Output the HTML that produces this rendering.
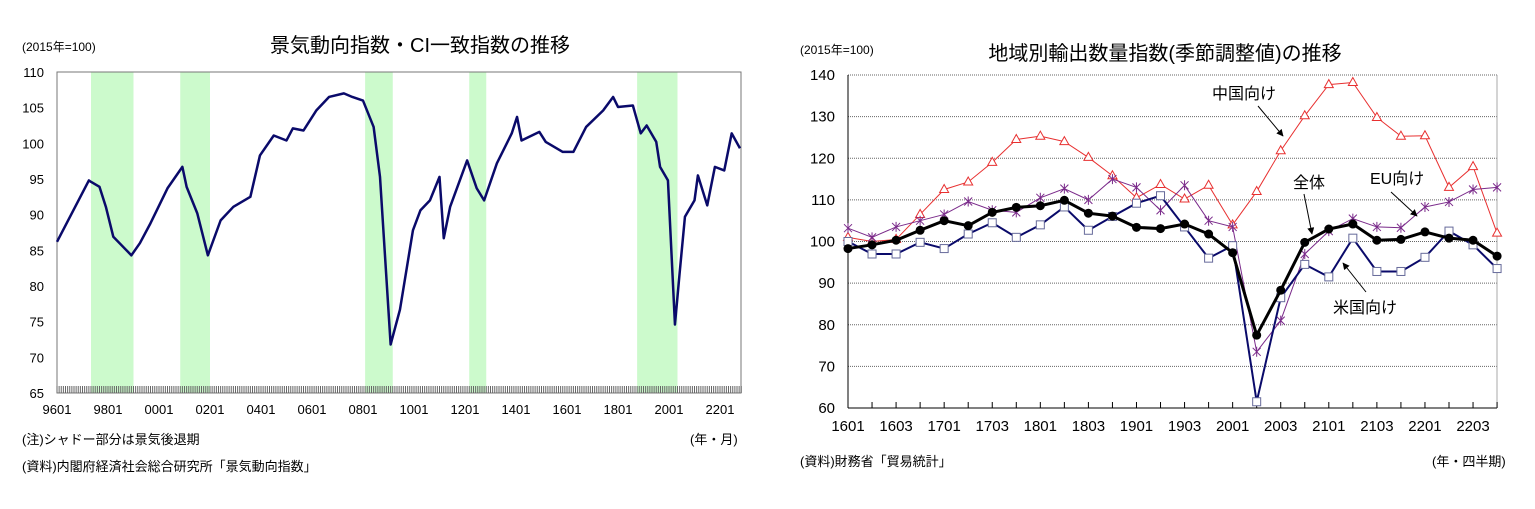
<!DOCTYPE html>
<html><head><meta charset="utf-8"><style>
body{margin:0;background:#fff;font-family:"Liberation Sans","Noto Sans CJK JP",sans-serif;}
svg text{font-family:"Liberation Sans","Noto Sans CJK JP",sans-serif;}
</style></head><body>
<svg id="s" width="1535" height="504" xmlns="http://www.w3.org/2000/svg">
<defs><marker id="ar" viewBox="0 0 10 10" refX="9" refY="5" markerWidth="7" markerHeight="7" orient="auto"><path d="M0,0L10,5L0,10z" fill="#000"/></marker></defs>
<text x="22" y="51" font-size="12">(2015年=100)</text>
<text x="420" y="52" font-size="20" text-anchor="middle">景気動向指数・CI一致指数の推移</text>
<text x="22" y="444" font-size="13">(注)シャドー部分は景気後退期</text>
<text x="690" y="444" font-size="13">(年・月)</text>
<text x="22" y="471" font-size="13">(資料)内閣府経済社会総合研究所「景気動向指数」</text>
<g id="L"></g>
<text x="800" y="54" font-size="12">(2015年=100)</text>
<text x="1165" y="60" font-size="20" text-anchor="middle">地域別輸出数量指数(季節調整値)の推移</text>
<text x="800" y="466" font-size="13">(資料)財務省「貿易統計」</text>
<text x="1432" y="466" font-size="13">(年・四半期)</text>
<g id="R"></g>
<text x="1212" y="99" font-size="16">中国向け</text>
<line x1="1258" y1="106" x2="1283" y2="136" stroke="#000" marker-end="url(#ar)"/>
<text x="1293" y="188" font-size="16">全体</text>
<line x1="1304" y1="194" x2="1312" y2="234" stroke="#000" marker-end="url(#ar)"/>
<text x="1370" y="184" font-size="16">EU向け</text>
<line x1="1391" y1="192" x2="1417" y2="216" stroke="#000" marker-end="url(#ar)"/>
<text x="1333" y="313" font-size="16">米国向け</text>
<line x1="1366" y1="292" x2="1343" y2="263" stroke="#000" marker-end="url(#ar)"/>
</svg>
<script>
// Left chart data
const ciMonths=[0,15,16,20,23,26.5,35,39,44,52,59,61,66,71,77,83,91,95.5,102,108,111,116,122,128,135,139,144,149,152,157,161.4,167.5,171,175.5,180,182,185,193,197.5,201,207,214,216.5,218.6,227,230,238,243,249,257,261.7,264,271,274.7,277.5,282,283.8,287.5,290.8,293,295.5,300,301.6,306,309.6,314,317.5,321.4];
const ciValues=[86.2,94.8,94.6,93.9,91.1,86.9,84.3,86,88.8,93.7,96.7,93.9,90.2,84.3,89.2,91.1,92.5,98.3,101.1,100.4,102.1,101.8,104.6,106.5,107,106.5,106,102.3,95.3,71.8,76.7,87.8,90.6,92,95.3,86.7,91.1,97.6,93.7,92,97.2,101.4,103.7,100.4,101.6,100.2,98.8,98.8,102.3,104.6,106.5,105.1,105.3,101.4,102.5,100.2,96.7,94.8,74.6,81.8,89.7,92,95.5,91.3,96.7,96.2,101.4,99.3];
const recessionStart=[16,58,145,194,273];
const recessionEnd=[36,72,158,202,292];
const leftTicks=[65,70,75,80,85,90,95,100,105,110];
const leftXLabels=['9601','9801','0001','0201','0401','0601','0801','1001','1201','1401','1601','1801','2001','2201'];
// Right chart data
const quarters=['1601','1602','1603','1604','1701','1702','1703','1704','1801','1802','1803','1804','1901','1902','1903','1904','2001','2002','2003','2004','2101','2102','2103','2104','2201','2202','2203','2204'];
const china=[101,100,100.5,106.5,112.5,114.3,119,124.5,125.3,124,120.2,115.8,110.5,113.7,110.2,113.5,104,112,121.8,130.2,137.7,138.2,129.8,125.3,125.4,113,118,102];
const eu=[103.2,101,103.5,105,106.5,109.6,107.5,107,110.5,112.7,110,115,113,107.5,113.5,105,103.5,73.5,81,97,102.5,105.5,103.5,103.3,108.3,109.5,112.5,113];
const us=[100,97,97,99.8,98.3,101.8,104.5,101,104,108.3,102.7,106,109.2,111,103.5,96,99,61.5,86.5,94.5,91.5,100.8,92.8,92.8,96.2,102.5,99.2,93.5];
const total=[98.3,99.2,100.3,102.7,105,103.8,107,108.2,108.6,109.9,106.8,106.1,103.4,103.1,104.2,101.8,97.3,77.5,88.3,99.8,103,104.2,100.3,100.5,102.3,100.8,100.3,96.5];
const rightTicks=[60,70,80,90,100,110,120,130,140];

const NS='http://www.w3.org/2000/svg';
function mk(p,t,a){const e=document.createElementNS(NS,t);for(const k in a)e.setAttribute(k,a[k]);p.appendChild(e);return e;}
// LEFT
const L=document.getElementById('L');
const lx=m=>57+m*2.125, ly=v=>72+(110-v)*321/45;
recessionStart.forEach((s,i)=>{const r=mk(L,'rect',{x:lx(s),y:72,width:lx(recessionEnd[i])-lx(s),height:321,fill:'#ccfacc'});

});
mk(L,'rect',{x:57,y:72,width:684,height:321,fill:'none',stroke:'#777','stroke-width':1});
for(let m=0;m<=322;m++){mk(L,'line',{x1:lx(m),x2:lx(m),y1:386,y2:393,stroke:'#666','stroke-width':1});}
leftTicks.forEach(v=>{const t=mk(L,'text',{x:44,y:ly(v)+5,'font-size':13,'text-anchor':'end'});t.textContent=v;

});
leftXLabels.forEach((s,i)=>{const t=mk(L,'text',{x:lx(i*24),y:414,'font-size':13,'text-anchor':'middle'});t.textContent=s;

});
const cl=mk(L,'polyline',{points:ciMonths.map((m,i)=>lx(m)+','+ly(ciValues[i])).join(' '),fill:'none',stroke:'#0a0a6a','stroke-width':2.5,'stroke-linejoin':'round'});


// RIGHT
const R=document.getElementById('R');
const rx=i=>848+i*24.04, ry=v=>75+(140-v)*333/80;
rightTicks.forEach(v=>{if(v>60&&v<140)mk(R,'line',{x1:848,x2:1497,y1:ry(v),y2:ry(v),stroke:'#666','stroke-dasharray':'1,1'});
const t=mk(R,'text',{x:835,y:ry(v)+5,'font-size':15,'text-anchor':'end'});t.textContent=v;

});
mk(R,'line',{x1:848,x2:1497,y1:ry(140),y2:ry(140),stroke:'#666','stroke-dasharray':'1,1'});
mk(R,'line',{x1:848,x2:848,y1:75,y2:408,stroke:'#000'});
mk(R,'line',{x1:848,x2:1497,y1:408,y2:408,stroke:'#000'});
mk(R,'line',{x1:1497,x2:1497,y1:75,y2:408,stroke:'#aaa'});
quarters.forEach((q,i)=>{mk(R,'line',{x1:rx(i),x2:rx(i),y1:402,y2:408,stroke:'#000'});
if(i%2==0&&i<27){const t=mk(R,'text',{x:rx(i),y:431,'font-size':15,'text-anchor':'middle'});t.textContent=q;

}});
function line(d,col,w,name){const p=mk(R,'polyline',{points:d.map((v,i)=>rx(i)+','+ry(v)).join(' '),fill:'none',stroke:col,'stroke-width':w});

}
line(china,'#e83030',1,'china-line');
china.forEach((v,i)=>{const x=rx(i),y=ry(v);mk(R,'polygon',{points:`${x},${y-5} ${x-4.5},${y+3} ${x+4.5},${y+3}`,fill:'#fff',stroke:'#e83030'});});
line(eu,'#7a2a8a',1,'eu-line');
eu.forEach((v,i)=>{const x=rx(i),y=ry(v);mk(R,'path',{d:`M${x-4},${y-4}L${x+4},${y+4}M${x-4},${y+4}L${x+4},${y-4}M${x},${y-5}L${x},${y+5}`,stroke:'#7a2a8a'});});
line(us,'#0a0a6a',2,'us-line');
us.forEach((v,i)=>{mk(R,'rect',{x:rx(i)-4,y:ry(v)-4,width:8,height:8,fill:'#fff',stroke:'#666a9a'});});
line(total,'#000',3,'total-line');
total.forEach((v,i)=>{mk(R,'circle',{cx:rx(i),cy:ry(v),r:4.5,fill:'#000'});});
</script>
</body></html>
